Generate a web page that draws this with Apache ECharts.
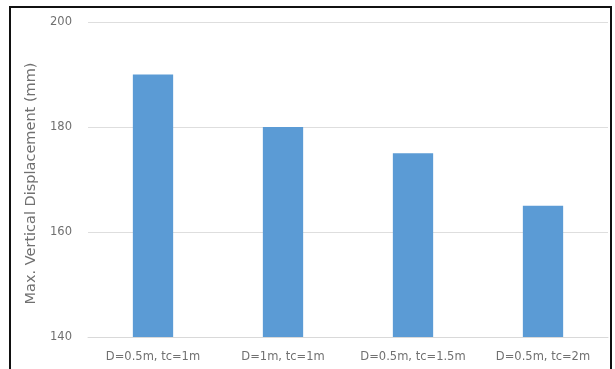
<!DOCTYPE html>
<html>
<head>
<meta charset="utf-8">
<script src="https://cdn.jsdelivr.net/npm/echarts@6/dist/echarts.min.js"></script>
<style>
  html, body { margin: 0; padding: 0; background: #ffffff; }
  #chart { width: 615px; height: 369px; }
</style>
</head>
<body>
<div id="chart"></div>
<script>
// Cases compared
const categories = ['D=0.5m, tc=1m', 'D=1m, tc=1m', 'D=0.5m, tc=1.5m', 'D=0.5m, tc=2m'];
// Maximum vertical displacement per case (mm)
const displacement = [190, 180, 175, 165];
// Vertical axis range
const yMin = 140;
const yMax = 200;
const yStep = 20;

const chart = echarts.init(document.getElementById('chart'), null, { renderer: 'canvas' });
const labelColor = '#707070';
const fontFamily = '"DejaVu Sans", "Liberation Sans", Arial, sans-serif';

chart.setOption({
  animation: false,
  backgroundColor: '#ffffff',
  graphic: [{
    type: 'polyline',
    shape: { points: [[10, 380], [10, 7], [611, 7], [611, 380]] },
    style: { stroke: '#111111', lineWidth: 2, fill: null },
    silent: true
  }],
  grid: { left: 88, right: 7, top: 22, bottom: 32, containLabel: false },
  xAxis: {
    type: 'category',
    data: categories,
    axisLine: { show: true, lineStyle: { color: '#d9d9d9', width: 1 } },
    axisTick: { show: false },
    axisLabel: { color: labelColor, fontSize: 11.5, fontFamily: fontFamily, margin: 14, interval: 0 }
  },
  yAxis: {
    type: 'value',
    min: yMin,
    max: yMax,
    interval: yStep,
    name: 'Max. Vertical Displacement (mm)',
    nameLocation: 'middle',
    nameGap: 19,
    nameTextStyle: { color: labelColor, fontSize: 14.5, fontFamily: fontFamily, padding: [0, 8, 0, 0] },
    axisLine: { show: false },
    axisTick: { show: false },
    axisLabel: { color: labelColor, fontSize: 11.5, fontFamily: fontFamily, margin: 16 },
    splitLine: { lineStyle: { color: '#dedede', width: 1 } }
  },
  series: [{
    type: 'bar',
    data: displacement,
    barWidth: '31%',
    itemStyle: { color: '#5b9bd5' }
  }]
});
</script>
</body>
</html>
